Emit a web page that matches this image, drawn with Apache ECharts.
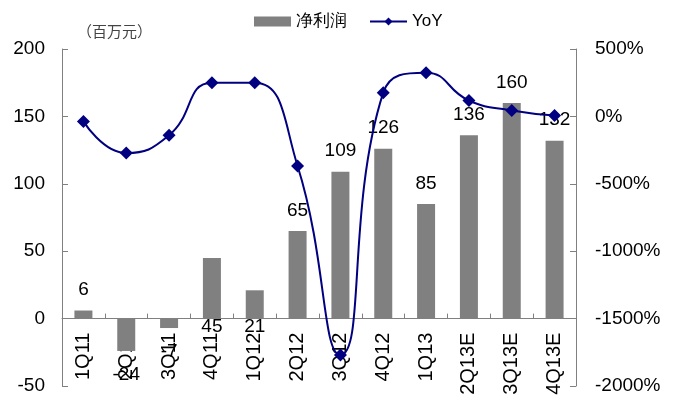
<!DOCTYPE html>
<html>
<head>
<meta charset="utf-8">
<script src="https://cdn.jsdelivr.net/npm/echarts@6/dist/echarts.min.js"></script>
<style>
  html, body { margin: 0; padding: 0; background: #fff; }
  #main { width: 677px; height: 403px; }
</style>
</head>
<body>
<div id="main"></div>
<script>
var categories = ["1Q11", "2Q11", "3Q11", "4Q11", "1Q12", "2Q12", "3Q12", "4Q12", "1Q13", "2Q13E", "3Q13E", "4Q13E"];
var profit = [6, -24, -7, 45, 21, 65, 109, 126, 85, 136, 160, 132];
var yoy = [-37, -272, -140, 250, 250, -368, -1770, 176, 324, 118, 44, 7];

var chartDom = document.getElementById("main");
var myChart = echarts.init(chartDom);

var font = "Liberation Sans, Arial, sans-serif";

var gridTop = 49, gridBottom = 17, leftMin = -50, leftMax = 200;
// 类目轴放在零线上（标签随轴一起移动）
var plotH = 403 - gridTop - gridBottom;
var zeroOffset = -plotH * (0 - leftMin) / (leftMax - leftMin);

// 标签位置：个别柱子的标签落在零线下方
var barData = profit.map(function (v, i) {
  var item = { value: v };
  if (i === 3 || i === 4) {
    item.label = { position: "bottom", distance: -1 };
  } else if (v < 0) {
    item.label = { position: "bottom", distance: 14 };
  }
  return item;
});

var option = {
  animation: false,
  textStyle: { fontFamily: font },
  legend: {
    top: 8,
    left: 249,
    itemWidth: 37,
    itemHeight: 10,
    itemGap: 22,
    textStyle: { fontSize: 17, color: "#000", fontFamily: font },
    data: [
      { name: "净利润", icon: "rect" },
      { name: "YoY" }
    ]
  },
  graphic: [
    {
      type: "text",
      left: 77,
      top: 24,
      style: { text: "（百万元）", fontSize: 15, fill: "#444", fontFamily: "Noto Sans CJK SC" }
    }
  ],
  grid: { left: 62, right: 101, top: gridTop, bottom: gridBottom, outerBoundsMode: "none" },
  xAxis: {
    type: "category",
    data: categories,
    offset: zeroOffset,
    axisLine: { onZero: false, lineStyle: { color: "#808080", width: 1 } },
    axisTick: { show: true, inside: true, length: 5, lineStyle: { color: "#808080" } },
    axisLabel: { rotate: 90, fontSize: 20, color: "#000", margin: 14, interval: 0 }
  },
  yAxis: [
    {
      type: "value",
      min: leftMin,
      max: leftMax,
      interval: 50,
      splitLine: { show: false },
      axisLine: { show: true, lineStyle: { color: "#808080" } },
      axisTick: { show: true, inside: true, length: 6, lineStyle: { color: "#808080" } },
      axisLabel: { fontSize: 19, color: "#000", margin: 17 }
    },
    {
      type: "value",
      min: -2000,
      max: 500,
      interval: 500,
      splitLine: { show: false },
      axisLine: { show: true, lineStyle: { color: "#808080" } },
      axisTick: { show: true, inside: true, length: 6, lineStyle: { color: "#808080" } },
      axisLabel: {
        fontSize: 19,
        color: "#000",
        margin: 19,
        formatter: function (v) { return v + "%"; }
      }
    }
  ],
  series: [
    {
      name: "净利润",
      type: "bar",
      barWidth: 18,
      itemStyle: { color: "#808080" },
      label: { show: true, position: "top", distance: 11, fontSize: 19, color: "#000" },
      data: barData
    },
    {
      name: "YoY",
      type: "line",
      yAxisIndex: 1,
      smooth: 0.5,
      symbol: "diamond",
      symbolSize: 13,
      lineStyle: { color: "#000080", width: 2 },
      itemStyle: { color: "#000080" },
      data: yoy
    }
  ]
};

option && myChart.setOption(option);
</script>
</body>
</html>
